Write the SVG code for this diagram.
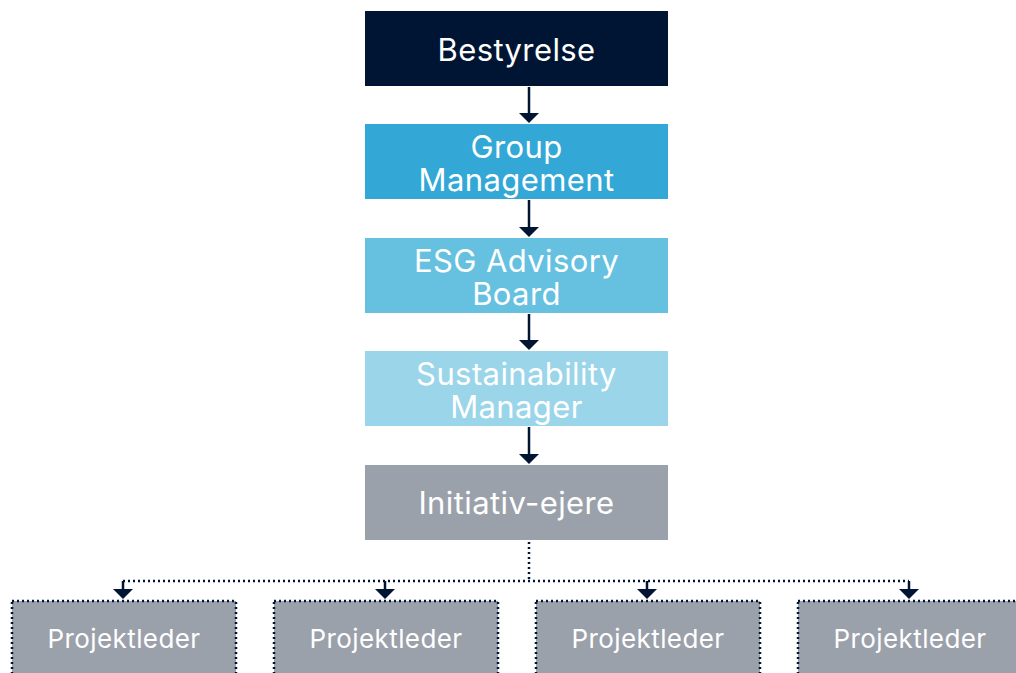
<svg xmlns="http://www.w3.org/2000/svg" width="1016" height="673" viewBox="0 0 1016 673">
<defs>
<style>
.t{font-family:Inter,"Liberation Sans",sans-serif;fill:#fff;text-anchor:middle}
.big{font-size:31px;letter-spacing:0.4px}
.sm{font-size:26px;letter-spacing:0.4px}
.solid{stroke:#001533;stroke-width:2.5;fill:none}
.dot{stroke:#001533;stroke-width:2.5;fill:none;stroke-dasharray:2 3}
.dotbox{stroke:#001533;stroke-width:2.5;stroke-dasharray:2 3;fill:#9BA1AB}
</style>
</defs>
<rect width="1016" height="673" fill="#fff"/>
<g id="connectors">
<line class="solid" x1="529" y1="87" x2="529" y2="113"/><path d="M519,113 L539,113 L529,123 Z" fill="#001533"/>
<line class="solid" x1="529" y1="200" x2="529" y2="227"/><path d="M519,227 L539,227 L529,237 Z" fill="#001533"/>
<line class="solid" x1="529" y1="314" x2="529" y2="340"/><path d="M519,340 L539,340 L529,350 Z" fill="#001533"/>
<line class="solid" x1="529" y1="427" x2="529" y2="454"/><path d="M519,454 L539,454 L529,464 Z" fill="#001533"/>
<polyline class="dot" points="529,542 529,581"/>
<polyline class="dot" points="123,581 909,581"/>
<line class="solid" x1="123" y1="581" x2="123" y2="590"/><path d="M113,589 L133,589 L123,599 Z" fill="#001533"/>
<line class="solid" x1="385" y1="581" x2="385" y2="590"/><path d="M375,589 L395,589 L385,599 Z" fill="#001533"/>
<line class="solid" x1="647" y1="581" x2="647" y2="590"/><path d="M637,589 L657,589 L647,599 Z" fill="#001533"/>
<line class="solid" x1="909" y1="581" x2="909" y2="590"/><path d="M899,589 L919,589 L909,599 Z" fill="#001533"/>
</g>
<g id="bestyrelse"><rect x="365" y="11" width="303" height="75" fill="#001533"/><text class="t big" x="516.5" y="61">Bestyrelse</text></g>
<g id="group-management"><rect x="365" y="124" width="303" height="75" fill="#33A8D6"/><text class="t big" x="516.5" y="158">Group</text><text class="t big" x="516.5" y="191">Management</text></g>
<g id="esg-advisory-board"><rect x="365" y="238" width="303" height="75" fill="#66C1E1"/><text class="t big" x="516.5" y="272">ESG Advisory</text><text class="t big" x="516.5" y="305">Board</text></g>
<g id="sustainability-manager"><rect x="365" y="351" width="303" height="75" fill="#9AD5E9"/><text class="t big" x="516.5" y="385">Sustainability</text><text class="t big" x="516.5" y="418">Manager</text></g>
<g id="initiativ-ejere"><rect x="365" y="465" width="303" height="75" fill="#9BA1AB"/><text class="t big" x="516.5" y="514">Initiativ-ejere</text></g>
<g id="projektleder-1"><rect class="dotbox" x="12" y="601" width="224" height="80"/><text class="t sm" x="124" y="648">Projektleder</text></g>
<g id="projektleder-2"><rect class="dotbox" x="274" y="601" width="224" height="80"/><text class="t sm" x="386" y="648">Projektleder</text></g>
<g id="projektleder-3"><rect class="dotbox" x="536" y="601" width="224" height="80"/><text class="t sm" x="648" y="648">Projektleder</text></g>
<g id="projektleder-4"><rect class="dotbox" x="798" y="601" width="224" height="80"/><text class="t sm" x="910" y="648">Projektleder</text></g>
</svg>
